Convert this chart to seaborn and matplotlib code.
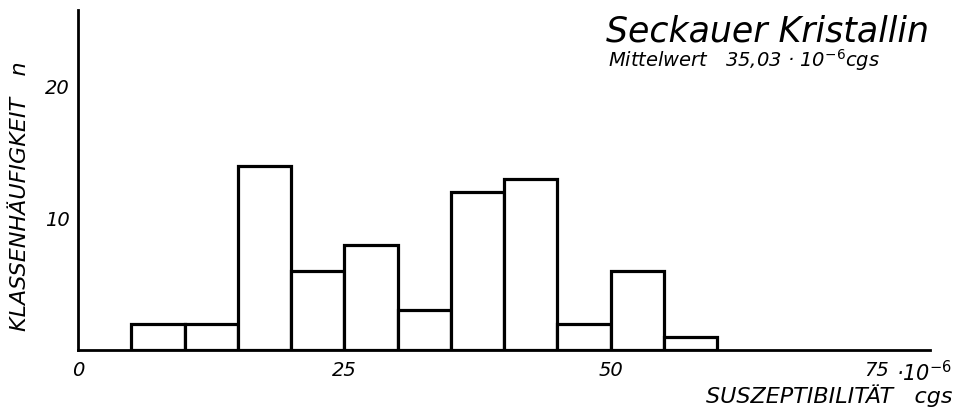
import numpy as np
import pandas as pd
import matplotlib
matplotlib.use("Agg")
import matplotlib.pyplot as plt
import seaborn as sns

# class limits (10^-6 cgs) and counts
bin_edges = [5, 10, 15, 20, 25, 30, 35, 40, 45, 50, 55, 60]
counts = [2, 2, 14, 6, 8, 3, 12, 13, 2, 6, 1]
x_ticks = [0, 25, 50, 75]
x_tick_labels = ["0", "25", "50", "75"]
y_ticks = [10, 20]
y_tick_labels = ["10", "20"]

sns.set_style("white")
plt.rcParams["font.family"] = ["DejaVu Sans"]
plt.rcParams["text.color"] = "black"
plt.rcParams["xtick.color"] = "black"
plt.rcParams["ytick.color"] = "black"

centers = [(a + b) / 2 for a, b in zip(bin_edges[:-1], bin_edges[1:])]
df = pd.DataFrame({"chi": centers, "n": counts})

fig = plt.figure(figsize=(9.56, 4.09), dpi=100)
ax = fig.add_axes([78 / 956, 59 / 409, (930 - 78) / 956, (350 - 10) / 409])

sns.histplot(data=df, x="chi", weights="n", bins=bin_edges, ax=ax,
             color="white", edgecolor="black", linewidth=2.3, alpha=1)

ax.set_xlim(0, 80)
ax.set_ylim(0, 25.8)
for side in ["top", "right"]:
    ax.spines[side].set_visible(False)
for side in ["left", "bottom"]:
    ax.spines[side].set_linewidth(2)
    ax.spines[side].set_color("black")

ax.set_xticks(x_ticks)
ax.set_xticklabels(x_tick_labels, fontsize=14, style="italic")
ax.set_yticks(y_ticks)
ax.set_yticklabels(y_tick_labels, fontsize=14, style="italic")
ax.tick_params(axis="x", direction="in", length=3, width=1.2, pad=8)
ax.tick_params(axis="y", direction="out", length=4, width=1.5, pad=2)
ax.set_xlabel("")
ax.set_ylabel("")

fig.text(896 / 956, 1 - 373 / 409, "·10$^{-6}$", fontsize=15, style="italic",
         ha="left", va="center")
fig.text(953 / 956, 1 - 396 / 409, "SUSZEPTIBILITÄT   cgs", fontsize=16,
         style="italic", ha="right", va="center")
fig.text(20 / 956, 1 - 196 / 409, "KLASSENHÄUFIGKEIT   n", fontsize=16,
         style="italic", rotation=90, ha="center", va="center")

fig.text(606 / 956, 1 - 31 / 409, "Seckauer Kristallin", fontsize=25,
         style="italic", ha="left", va="center")
fig.text(608 / 956, 1 - 60 / 409, "Mittelwert   35,03 · 10$^{-6}$cgs",
         fontsize=14, style="italic", ha="left", va="center")

fig.savefig("out.png", dpi=100, facecolor="white")
